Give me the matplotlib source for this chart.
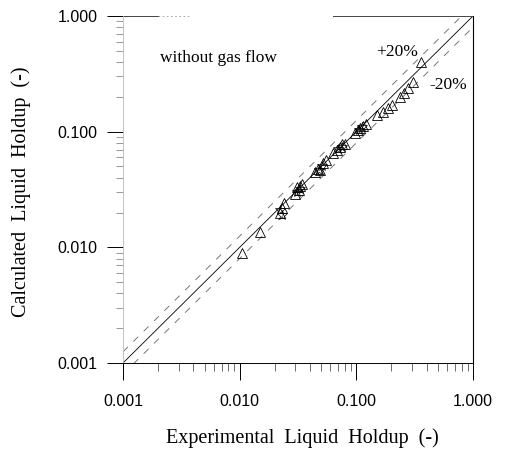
import matplotlib
matplotlib.use("Agg")
import matplotlib.pyplot as plt
from matplotlib.lines import Line2D
import numpy as np

# Data: open triangles
tri_exp = [0.0105, 0.0148, 0.022, 0.023, 0.024, 0.030, 0.031, 0.032, 0.033, 0.034,
           0.044, 0.047, 0.049, 0.052, 0.055, 0.063, 0.068, 0.072, 0.076, 0.080,
           0.098, 0.103, 0.108, 0.115, 0.120, 0.150, 0.169, 0.185, 0.202, 0.236,
           0.255, 0.277, 0.305, 0.360]
tri_calc = [0.0089, 0.0136, 0.020, 0.022, 0.024, 0.029, 0.033, 0.031, 0.034, 0.035,
            0.045, 0.048, 0.047, 0.054, 0.057, 0.066, 0.070, 0.074, 0.078, 0.079,
            0.098, 0.104, 0.108, 0.112, 0.117, 0.140, 0.148, 0.160, 0.170, 0.199,
            0.215, 0.238, 0.268, 0.400]
# Data: asterisks
ast_exp = [0.022, 0.023, 0.031, 0.033, 0.048, 0.051, 0.070, 0.075, 0.105, 0.112]
ast_calc = [0.021, 0.019, 0.030, 0.032, 0.047, 0.050, 0.071, 0.073, 0.103, 0.110]

ticks = [0.001, 0.01, 0.1, 1.0]
tick_labels = ["0.001", "0.010", "0.100", "1.000"]
upper_factor = 1.25
lower_factor = 0.80

fig = plt.figure(figsize=(5.05, 4.49), dpi=100)
ax = fig.add_axes([123/505, 1-363/449, 350/505, 347/449])
ax.set_xscale("log")
ax.set_yscale("log")
ax.set_xlim(0.001, 1.0)
ax.set_ylim(0.001, 1.0)

xs = np.array([0.001, 1.0])
ax.plot(xs, xs, color="black", lw=0.6)
ax.plot(xs, xs * upper_factor, color="#777777", lw=0.7, dashes=(7, 8))
ax.plot(xs, xs * lower_factor, color="#777777", lw=0.7, dashes=(7, 8))

ax.plot(tri_exp, tri_calc, ls="none", marker="^", ms=7.5, mfc="none", mec="black", mew=0.6)
ax.plot(ast_exp, ast_calc, ls="none", marker="*", ms=7, mfc="none", mec="black", mew=0.5)

serif = ["Liberation Serif", "DejaVu Serif"]
sans = ["Liberation Sans", "DejaVu Sans"]

ax.text(0.106, 0.879, "without gas flow", transform=ax.transAxes, fontsize=12.5, family=serif, va="center")
ax.text(0.723, 0.896, "+20%", transform=ax.transAxes, fontsize=12.5, family=serif, va="center")
ax.text(0.874, 0.801, "-20%", transform=ax.transAxes, fontsize=12.5, family=serif, va="center")

ax.set_xticks(ticks)
ax.set_xticklabels(tick_labels, family=sans, fontsize=11.5)
ax.set_yticks(ticks)
ax.set_yticklabels(tick_labels, family=sans, fontsize=11.5)
ax.tick_params(axis="x", which="major", direction="out", length=12, width=0.7, pad=10.5, top=False)
ax.tick_params(axis="x", which="minor", direction="out", length=6, width=0.6, top=False, color="#555555")
ax.tick_params(axis="y", which="major", direction="out", length=11.5, width=0.7, pad=7, right=False)
ax.tick_params(axis="y", which="minor", direction="out", length=5, width=0.6, right=False, color="#888888")

ax.spines["left"].set_color("#bbbbbb")
ax.spines["left"].set_linewidth(0.6)
ax.spines["bottom"].set_linewidth(0.7)
ax.spines["right"].set_linewidth(0.8)
ax.spines["top"].set_visible(False)
ax.add_line(Line2D([0, 0.10], [1, 1], transform=ax.transAxes, color="#444444", lw=0.7, clip_on=False))
ax.add_line(Line2D([0.10, 0.19], [1, 1], transform=ax.transAxes, color="#999999", lw=0.6, dashes=(2, 3), clip_on=False))
ax.add_line(Line2D([0.60, 1.0], [1, 1], transform=ax.transAxes, color="#444444", lw=0.7, clip_on=False))

fig.text(302/505, 1-438/449, "Experimental  Liquid  Holdup  (-)", family=serif, fontsize=14.5, ha="center", va="center")
fig.text(21/505, 1-192/449, "Calculated  Liquid  Holdup  (-)", family=serif, fontsize=14.5, ha="center", va="center", rotation=90)

fig.savefig("out.png", dpi=100)
